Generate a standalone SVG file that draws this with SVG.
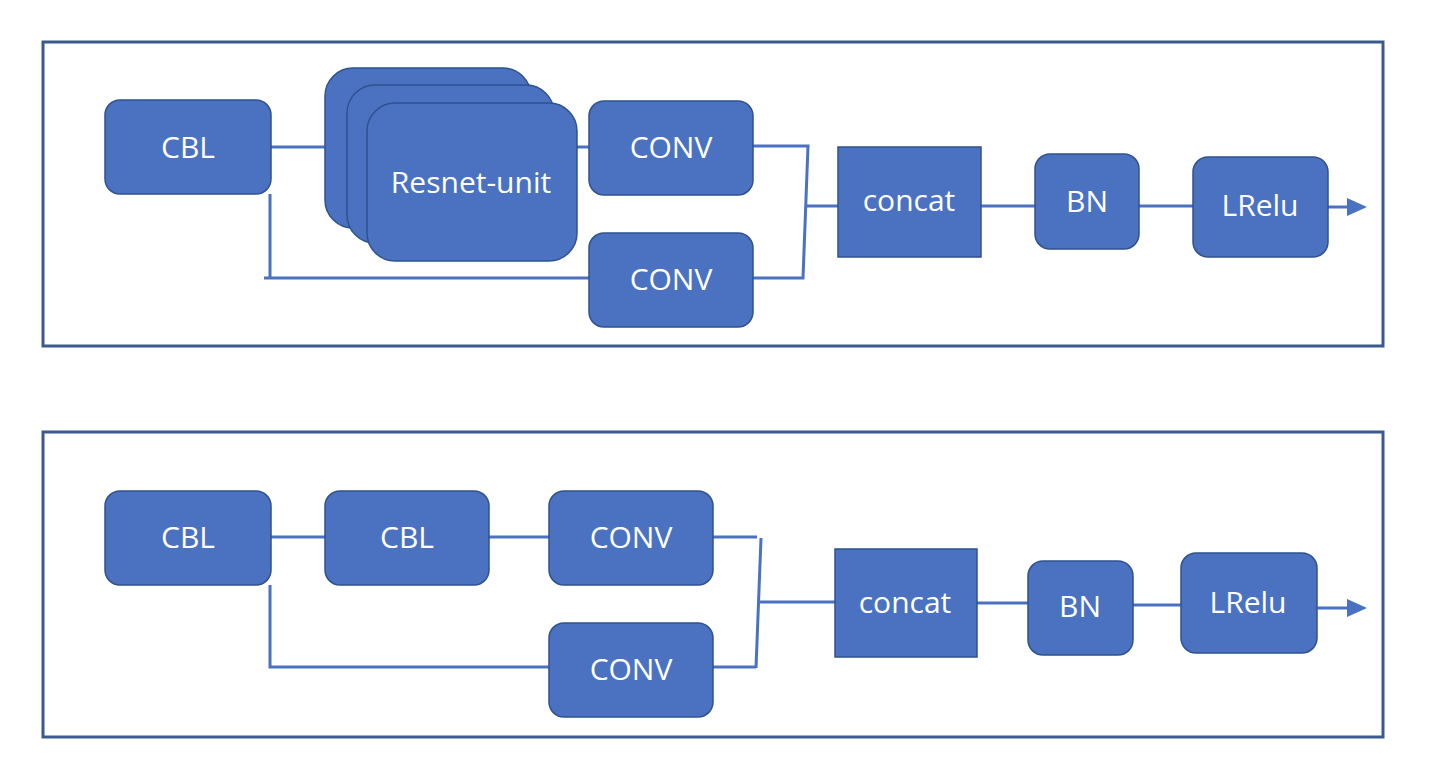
<svg xmlns="http://www.w3.org/2000/svg" width="1430" height="772" viewBox="0 0 1430 772">
<style>
.frame{fill:none;stroke:#3A5A8E;stroke-width:3}
.node{fill:#4A72C0;stroke:#2F528F;stroke-width:1.5}
.lbl{font-family:"Open Sans","Liberation Sans",sans-serif;font-size:30px;fill:#ffffff;text-anchor:middle}
.wire{fill:none;stroke:#4A72C0;stroke-width:3}
</style>
<defs>
<marker id="arr" viewBox="0 0 20 18" refX="13" refY="9" markerWidth="20" markerHeight="18" markerUnits="userSpaceOnUse" orient="auto">
<path d="M0,0 L20,9 L0,18 Z" fill="#4A72C0"/>
</marker>
</defs>
<rect class="frame" x="43" y="42" width="1340" height="304"/>
<rect class="frame" x="43" y="432" width="1340" height="305"/>
<g id="connectors">
<path class="wire" d="M271,147 H330"/>
<path class="wire" d="M575,147 H590"/>
<path class="wire" d="M270,194 V278 M264,278 H590"/>
<path class="wire" d="M752,146 H808 L803,278 H752"/>
<path class="wire" d="M806,206 H839"/>
<path class="wire" d="M981,206 H1036"/>
<path class="wire" d="M1139,206 H1194"/>
<path class="wire" d="M1328,207 H1360" marker-end="url(#arr)"/>
<path class="wire" d="M271,537 H326"/>
<path class="wire" d="M489,537 H550"/>
<path class="wire" d="M270,585 V667 H550"/>
<path class="wire" d="M712,537 H757 M761,538 L756,668 M712,667 H756"/>
<path class="wire" d="M760,602 H836"/>
<path class="wire" d="M977,603 H1029"/>
<path class="wire" d="M1133,605 H1182"/>
<path class="wire" d="M1317,608 H1360" marker-end="url(#arr)"/>
</g>
<g id="cbl-top"><rect class="node" x="105" y="100" width="166" height="94" rx="15"/><text class="lbl" x="188" y="158">CBL</text></g>
<g id="resnet-unit">
<rect class="node" x="325" y="68" width="206" height="160" rx="28"/>
<rect class="node" x="347" y="85" width="207" height="158" rx="28"/>
<rect class="node" x="367" y="103" width="210" height="158" rx="28"/>
<text class="lbl" x="471" y="193">Resnet-unit</text>
</g>
<g id="conv-top-1"><rect class="node" x="589" y="101" width="164" height="94" rx="15"/><text class="lbl" x="671" y="158">CONV</text></g>
<g id="conv-top-2"><rect class="node" x="589" y="233" width="164" height="94" rx="15"/><text class="lbl" x="671" y="290">CONV</text></g>
<g id="concat-top"><rect class="node" x="838" y="147" width="143" height="110"/><text class="lbl" x="909" y="211">concat</text></g>
<g id="bn-top"><rect class="node" x="1035" y="154" width="104" height="95" rx="15"/><text class="lbl" x="1087" y="212">BN</text></g>
<g id="lrelu-top"><rect class="node" x="1193" y="157" width="135" height="100" rx="15"/><text class="lbl" x="1260" y="216">LRelu</text></g>
<g id="cbl-bottom-1"><rect class="node" x="105" y="491" width="166" height="94" rx="15"/><text class="lbl" x="188" y="548">CBL</text></g>
<g id="cbl-bottom-2"><rect class="node" x="325" y="491" width="164" height="94" rx="15"/><text class="lbl" x="407" y="548">CBL</text></g>
<g id="conv-bottom-1"><rect class="node" x="549" y="491" width="164" height="94" rx="15"/><text class="lbl" x="631" y="548">CONV</text></g>
<g id="conv-bottom-2"><rect class="node" x="549" y="623" width="164" height="94" rx="15"/><text class="lbl" x="631" y="680">CONV</text></g>
<g id="concat-bottom"><rect class="node" x="835" y="549" width="142" height="108"/><text class="lbl" x="905" y="613">concat</text></g>
<g id="bn-bottom"><rect class="node" x="1028" y="561" width="105" height="94" rx="15"/><text class="lbl" x="1080" y="617">BN</text></g>
<g id="lrelu-bottom"><rect class="node" x="1181" y="553" width="136" height="100" rx="15"/><text class="lbl" x="1248" y="613">LRelu</text></g>
</svg>
